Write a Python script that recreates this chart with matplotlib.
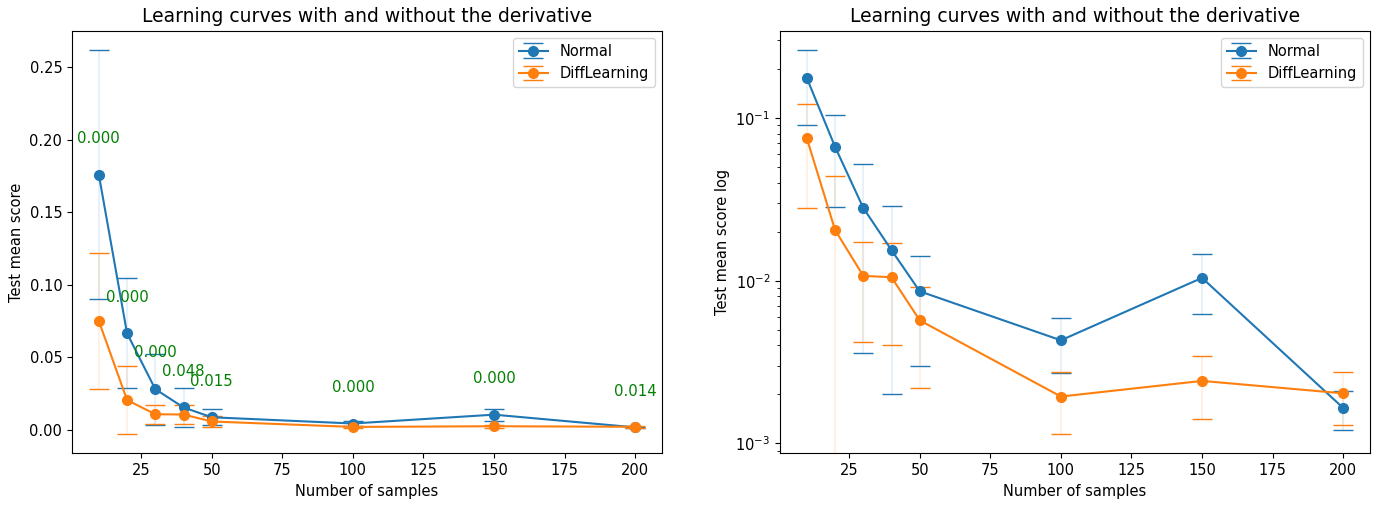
import matplotlib.pyplot as plt

# Data
n_samples = [10, 20, 30, 40, 50, 100, 150, 200]

normal_mean = [0.176, 0.0665, 0.028, 0.0154, 0.0086, 0.0043, 0.0104, 0.00165]
normal_std = [0.086, 0.038, 0.0244, 0.0134, 0.0056, 0.0016, 0.0042, 0.00045]

diff_mean = [0.075, 0.0205, 0.0107, 0.0105, 0.0057, 0.00194, 0.00242, 0.00203]
diff_std = [0.047, 0.0235, 0.0065, 0.0065, 0.0035, 0.0008, 0.001, 0.00073]

p_values = [0.000, 0.000, 0.000, 0.048, 0.015, 0.000, 0.000, 0.014]

plt.rcParams['font.size'] = 10.5


def draw_curves(ax):
    for name, mean, std in [('Normal', normal_mean, normal_std),
                            ('DiffLearning', diff_mean, diff_std)]:
        eb = ax.errorbar(n_samples, mean, yerr=std, marker='o', markersize=7,
                         capsize=7, label=name)
        eb[2][0].set_alpha(0.1)
    ax.set_title('Learning curves with and without the derivative', fontsize=13.5)
    ax.set_xlabel('Number of samples')
    ax.legend(loc='upper right')


fig = plt.figure(figsize=(13.8, 5.11), dpi=100)
ax1 = fig.add_axes([72 / 1380, 57.7 / 511, 590 / 1380, 422.6 / 511])
ax2 = fig.add_axes([780 / 1380, 57.7 / 511, 590 / 1380, 422.6 / 511])

# Linear scale with p-values
draw_curves(ax1)
for x, m, p in zip(n_samples, normal_mean, p_values):
    ax1.text(x, m + 0.025, f'{p:.3f}', color='green', ha='center', va='center', fontsize=10.7)
ax1.set_ylabel('Test mean score')

# Log scale
draw_curves(ax2)
ax2.set_yscale('log')
ax2.set_ylabel('Test mean score log')

fig.savefig('out.png', dpi=100)
